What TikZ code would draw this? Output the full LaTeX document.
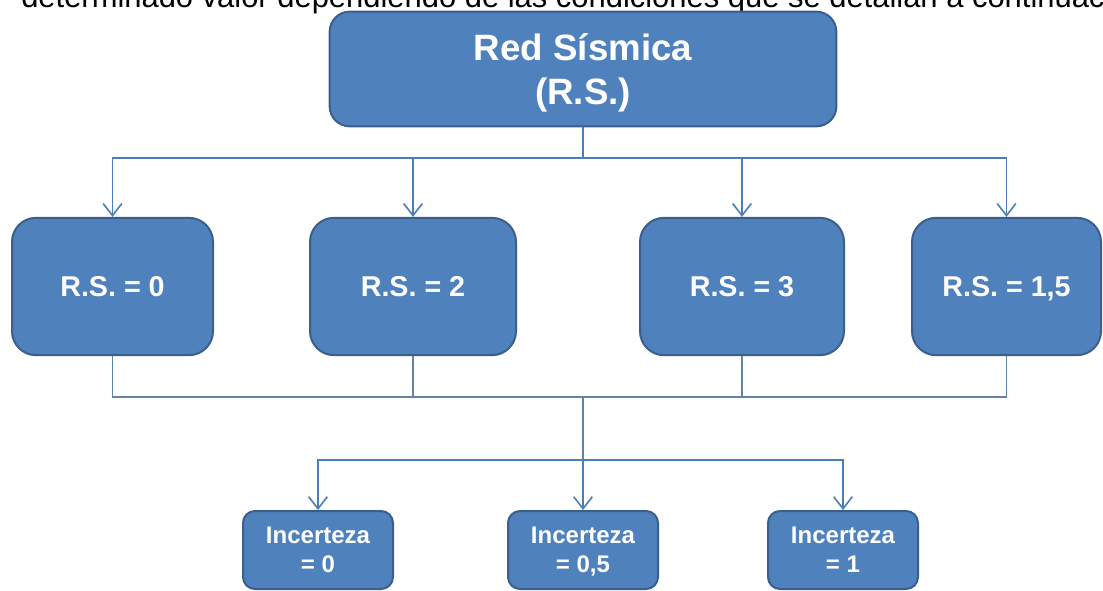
\documentclass[tikz,border=0pt]{standalone}
\usepackage{fontspec}
\setmainfont{Liberation Sans}
\usetikzlibrary{arrows.meta,calc}
\definecolor{boxfill}{HTML}{4F81BD}
\definecolor{boxedge}{HTML}{3A5F8C}
\definecolor{wire}{HTML}{4A7EBB}
\definecolor{wiregray}{HTML}{5F84A8}
\tikzset{
  box/.style={draw=boxedge, fill=boxfill, line width=1.5pt, text=white,
    align=center, inner sep=0pt, text depth=0pt, font=\bfseries},
  bigbox/.style={box, rounded corners=15pt, minimum width=380pt, minimum height=86pt,
    font=\bfseries\fontsize{27.5}{33}\selectfont},
  rsbox/.style={box, rounded corners=18pt, minimum height=103pt,
    font=\bfseries\fontsize{21.5}{25}\selectfont},
  incbox/.style={box, rounded corners=9pt, minimum width=112.5pt, minimum height=58.5pt,
    font=\bfseries\fontsize{18}{21.75}\selectfont},
  wireline/.style={draw=wire, line width=1.3pt},
  lowline/.style={draw=wiregray, line width=1.1pt},
  arrowline/.style={wireline, -{Straight Barb[length=9pt,width=14pt,line width=1.2pt]}},
}
\begin{document}
\begin{tikzpicture}[x=0.75pt,y=-0.75pt]
\useasboundingbox (0,0) rectangle (1103,590);

% sentence running above the chart, cut by the page edge
\begin{scope}
  \clip (0,0) rectangle (1103,590);
  \node[anchor=base west, inner sep=0pt, font=\fontsize{23.2}{28}\selectfont] (intro)
    at (21,7) {determinado valor dependiendo de las condiciones que se detallan a continuación};
\end{scope}

% boxes
\node[bigbox] (top) at (583,69) {Red Sísmica\\(R.S.)};

\node[rsbox, minimum width=150.75pt] (rs0)  at (112.5,286.5) {R.S. = 0};
\node[rsbox, minimum width=154.5pt]  (rs2)  at (413,286.5)   {R.S. = 2};
\node[rsbox, minimum width=153pt]    (rs3)  at (742,286.5)   {R.S. = 3};
\node[rsbox, minimum width=141.75pt] (rs15) at (1006.5,286.5) {R.S. = 1,5};

\node[incbox] (inc0)  at (318,550) {Incerteza\\= 0};
\node[incbox] (inc05) at (583,550) {Incerteza\\= 0,5};
\node[incbox] (inc1)  at (843,550) {Incerteza\\= 1};

% connector levels
\coordinate (busA)  at (583,158);
\coordinate (hub)   at (583,397);
\coordinate (split) at (583,460);

% top box to the four R.S. boxes
\draw[wireline] (top.south) -- (busA);
\foreach \n in {rs0,rs2,rs3,rs15}
  \draw[arrowline] (busA) -| (\n.north);

% R.S. boxes gathered into one line
\foreach \n in {rs0,rs2,rs3,rs15}
  \draw[lowline] (\n.south) |- (hub);
\draw[lowline] (hub) -- (split);

% branches to the uncertainty boxes
\foreach \n in {inc0,inc05,inc1}
  \draw[arrowline] (split) -| (\n.north);
\end{tikzpicture}
\end{document}
